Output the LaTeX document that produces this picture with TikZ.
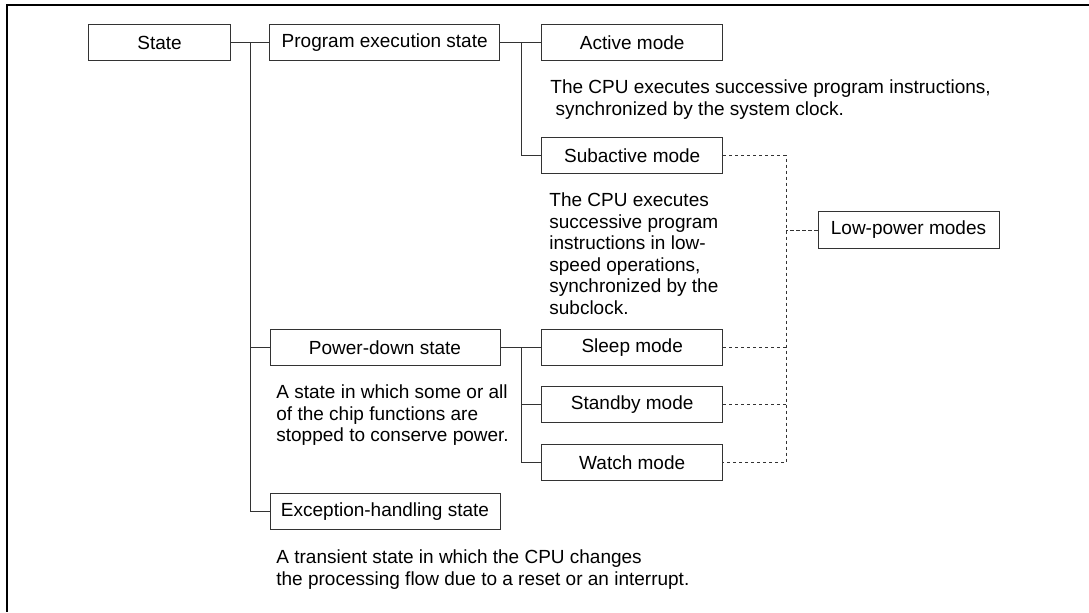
\documentclass[tikz,border=0pt]{standalone}
\usepackage{fontspec}
\setmainfont{Liberation Sans}
\usetikzlibrary{positioning, calc}

\begin{document}
\begin{tikzpicture}[
    x=0.5pt, y=-0.5pt,
    font=\fontsize{9.5}{10.75}\selectfont,
    box/.style={draw=black!80, rectangle, line width=0.5pt, inner sep=0pt,
                minimum height=18.2pt},
    smallbox/.style={box, minimum width=71pt},
    widebox/.style={box, minimum width=115pt},
    modebox/.style={box, minimum width=90.5pt},
    desc/.style={anchor=north west, align=left, inner sep=0pt},
    link/.style={draw=black!80, line width=0.5pt},
    lowlink/.style={draw=black!80, line width=0.5pt, dash pattern=on 1.6pt off 1.4pt},
    frame/.style={draw=black, line width=1pt},
]
\useasboundingbox (0,0) rectangle (1089,612);

% === Frame ===
\draw[frame] (1089,5) -| (6.5,612);

% === States ===
\node[smallbox] (state) at (159.6, 42.5) {State};
\node[widebox] (prog) at (384.7, 42.5) {Program execution state};
\node[widebox] (pdown) at (385, 347.3) {Power-down state};
\node[widebox] (exc) at (385, 511.7) {Exception-handling state};

% === Modes ===
\node[modebox] (active) at (632.2, 42.5) {Active mode};
\node[modebox] (subact) at (632.2, 155.3) {Subactive mode};
\node[modebox] (sleep) at (632.2, 347.3) {Sleep mode};
\node[modebox] (standby) at (632.2, 404.7) {Standby mode};
\node[modebox] (watch) at (632.2, 462.5) {Watch mode};
\node[modebox] (lowpow) at (908.5, 230) {Low-power modes};

% === Descriptions ===
\node[desc] (activetxt) at (550, 79.5)
     {The CPU executes successive program instructions,\\
      \ synchronized by the system clock.};
\node[desc] (subacttxt) at (549, 192.5)
     {The CPU executes\\ successive program\\ instructions in low-\\
      speed operations,\\ synchronized by the\\ subclock.};
\node[desc] (pdowntxt) at (276, 384.5)
     {A state in which some or all\\ of the chip functions are\\
      stopped to conserve power.};
\node[desc] (exctxt) at (276, 549.5)
     {A transient state in which the CPU changes\\
      the processing flow due to a reset or an interrupt.};

% === Tree connectors ===
\coordinate (j1) at (250, 42.5);
\coordinate (j2) at (521, 42.5);
\coordinate (j3) at (521, 347.3);
\draw[link] (state) -- (prog);
\draw[link] (j1) |- (pdown.west);
\draw[link] (j1) |- (exc.west);
\draw[link] (prog) -- (active);
\draw[link] (j2) |- (subact.west);
\draw[link] (pdown) -- (sleep);
\draw[link] (j3) |- (standby.west);
\draw[link] (j3) |- (watch.west);

% === Low-power grouping ===
\coordinate (dtop) at (786, 155.3);
\coordinate (dbot) at (786, 462.5);
\draw[lowlink] (subact.east) -- (dtop) -- (dbot) -- (watch.east);
\draw[lowlink] (sleep.east) -- (sleep.east -| dtop);
\draw[lowlink] (standby.east) -- (standby.east -| dtop);
\draw[lowlink] (lowpow.west) -- (lowpow.west -| dtop);

\end{tikzpicture}
\end{document}
